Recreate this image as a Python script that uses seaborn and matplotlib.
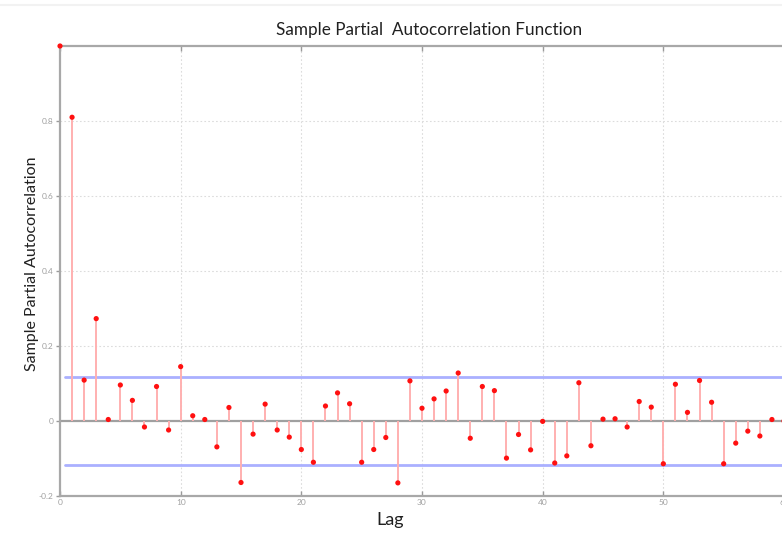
import matplotlib
matplotlib.use("Agg")
import matplotlib.pyplot as plt
import seaborn as sns
import numpy as np
import pandas as pd

lags = list(range(0, 61))
pacf = [1.0, 0.81, 0.109, 0.273, 0.004, 0.096, 0.055, -0.016, 0.092, -0.024,
        0.145, 0.014, 0.004, -0.069, 0.036, -0.164, -0.035, 0.045, -0.024, -0.043,
        -0.076, -0.110, 0.040, 0.075, 0.046, -0.110, -0.076, -0.044, -0.165, 0.107,
        0.034, 0.059, 0.080, 0.128, -0.046, 0.092, 0.081, -0.099, -0.036, -0.077,
        -0.001, -0.112, -0.093, 0.102, -0.066, 0.005, 0.006, -0.016, 0.052, 0.037,
        -0.114, 0.098, 0.023, 0.108, 0.050, -0.114, -0.059, -0.027, -0.040, 0.004,
        0.0]
bound = 0.117
xticks = [0, 10, 20, 30, 40, 50, 60]
yticks = [-0.2, 0, 0.2, 0.4, 0.6, 0.8]

df = pd.DataFrame({"Lag": lags, "PACF": pacf})

sns.set_theme(style="white")
plt.rcParams['font.family'] = ['Lato', 'DejaVu Sans']

fig = plt.figure(figsize=(7.82, 5.33), dpi=100)
ax = fig.add_axes([60/782, 37/533, 724/782, 450/533])

# grid
for xv in xticks[1:-1]:
    ax.axvline(xv, color="#dcdcdc", lw=0.8, ls=(0, (1.5, 2)), zorder=0)
for yv in [0.2, 0.4, 0.6, 0.8]:
    ax.axhline(yv, color="#dcdcdc", lw=0.8, ls=(0, (1.5, 2)), zorder=0)

# zero line
ax.plot([0, 60], [0, 0], color="#a0a0a0", lw=1.6, zorder=1)
# bounds
ax.plot([0.4, 60], [bound, bound], color="#aab0ff", lw=2.0, zorder=1)
ax.plot([0.4, 60], [-bound, -bound], color="#aab0ff", lw=2.0, zorder=1)

# stems
ax.vlines(df["Lag"], 0, df["PACF"], color="#ffb0b0", lw=1.4, zorder=2)
sns.scatterplot(data=df, x="Lag", y="PACF", ax=ax, color="#ff1010", s=14,
                edgecolor="none", zorder=3, clip_on=False)

ax.set_xlim(0, 60)
ax.set_ylim(-0.2, 1.0)
ax.set_xticks(xticks)
ax.set_xticklabels([str(v) for v in xticks])
ax.set_yticks(yticks)
ax.set_yticklabels(["-0.2", "0", "0.2", "0.4", "0.6", "0.8"])
ax.tick_params(axis="both", labelsize=6, labelcolor="#a0a0a0", color="#9a9a9a",
               length=3.5, width=1.0, direction="in", pad=2)
ax.tick_params(axis="x", top=True, bottom=True)
ax.tick_params(axis="y", left=True, direction="out", length=3, pad=1.5)

for side in ["left", "top", "bottom"]:
    ax.spines[side].set_color("#a8a8a8")
    ax.spines[side].set_linewidth(1.6)
ax.spines["right"].set_visible(False)

ax.set_title("Sample Partial  Autocorrelation Function", fontsize=12.3,
             color="#202020", pad=0, x=(429 - 60) / 724, y=(496 - 30) / 450,
             va="center")
ax.set_xlabel("Lag", fontsize=13, color="#202020")
ax.xaxis.set_label_coords((390 - 60) / 724, (496 - 520) / 450)
ax.xaxis.label.set_va("center")
ax.set_ylabel("Sample Partial Autocorrelation", fontsize=11.5, color="#202020")
ax.yaxis.set_label_coords((32 - 60) / 724, (496 - 264) / 450)
ax.yaxis.label.set_va("center")

fig.add_artist(plt.Line2D([0, 1], [1 - 5/533, 1 - 5/533], color="#f2f2f2", lw=1.5))

fig.savefig("out.png", dpi=100)
